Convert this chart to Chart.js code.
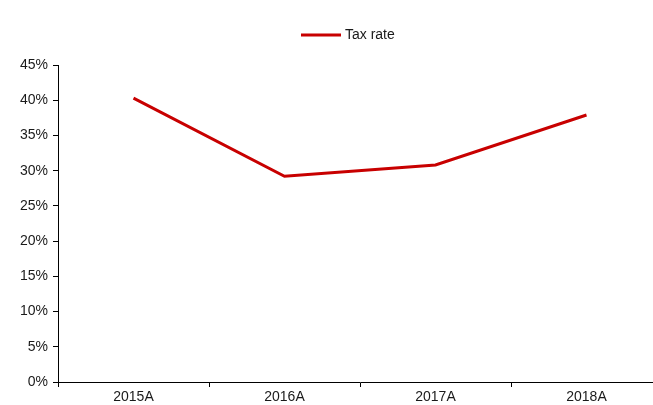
<!DOCTYPE html>
<html>
<head>
<meta charset="utf-8">
<script src="https://cdn.jsdelivr.net/npm/chart.js@4/dist/chart.umd.min.js"></script>
<style>
  html, body { margin: 0; padding: 0; background: #fff; overflow: hidden; }
  #wrap { width: 653px; height: 405px; overflow: hidden; }
  canvas { display: block; }
</style>
</head>
<body>
<div id="wrap"><canvas id="c" width="664" height="405"></canvas></div>
<script>
// Effective tax rate by year (%)
const categories = ['2015A', '2016A', '2017A', '2018A'];
const taxRate = [40.3, 29.2, 30.8, 37.9];
const seriesName = 'Tax rate';
const yTicks = [0, 5, 10, 15, 20, 25, 30, 35, 40, 45];

const LINE_RED = '#c80000';
const TEXT = '#1a1a1a';
const FONT = { family: '"Liberation Sans", Arial, sans-serif', size: 14 };

// Legend drawn as a single line sample plus label above the plot
const lineLegend = {
  id: 'lineLegend',
  afterDraw(chart) {
    const ctx = chart.ctx;
    const ds = chart.data.datasets[0];
    ctx.save();
    ctx.strokeStyle = ds.borderColor;
    ctx.lineWidth = 3;
    ctx.beginPath();
    ctx.moveTo(301, 35);
    ctx.lineTo(341, 35);
    ctx.stroke();
    ctx.fillStyle = TEXT;
    ctx.font = FONT.size + 'px ' + FONT.family;
    ctx.textAlign = 'left';
    ctx.textBaseline = 'middle';
    ctx.fillText(ds.label, 345, 35);
    ctx.restore();
  }
};

new Chart(document.getElementById('c'), {
  type: 'line',
  data: {
    labels: categories,
    datasets: [{
      label: seriesName,
      data: taxRate,
      borderColor: LINE_RED,
      backgroundColor: LINE_RED,
      borderWidth: 3,
      pointRadius: 0,
      tension: 0,
      fill: false
    }]
  },
  options: {
    responsive: false,
    animation: false,
    layout: { padding: { top: 65, right: 2, left: 0, bottom: 0 } },
    plugins: {
      legend: { display: false },
      tooltip: { enabled: false }
    },
    scales: {
      x: {
        offset: true,
        grid: {
          display: true,
          offset: true,
          drawOnChartArea: false,
          drawTicks: true,
          tickLength: 5,
          color: '#000'
        },
        border: { display: true, color: '#000', width: 1 },
        ticks: { color: TEXT, font: FONT, padding: 2, maxRotation: 0 },
        afterFit(scale) { scale.height = 23; }
      },
      y: {
        min: 0,
        max: 45,
        afterBuildTicks(scale) { scale.ticks = yTicks.map(v => ({ value: v })); },
        grid: {
          display: true,
          drawOnChartArea: false,
          drawTicks: true,
          tickLength: 5,
          color: '#000'
        },
        border: { display: true, color: '#000', width: 1 },
        ticks: {
          color: TEXT,
          font: FONT,
          padding: 5,
          callback: v => v + '%'
        },
        afterFit(scale) { scale.width = 58; }
      }
    }
  },
  plugins: [lineLegend]
});
</script>
</body>
</html>
